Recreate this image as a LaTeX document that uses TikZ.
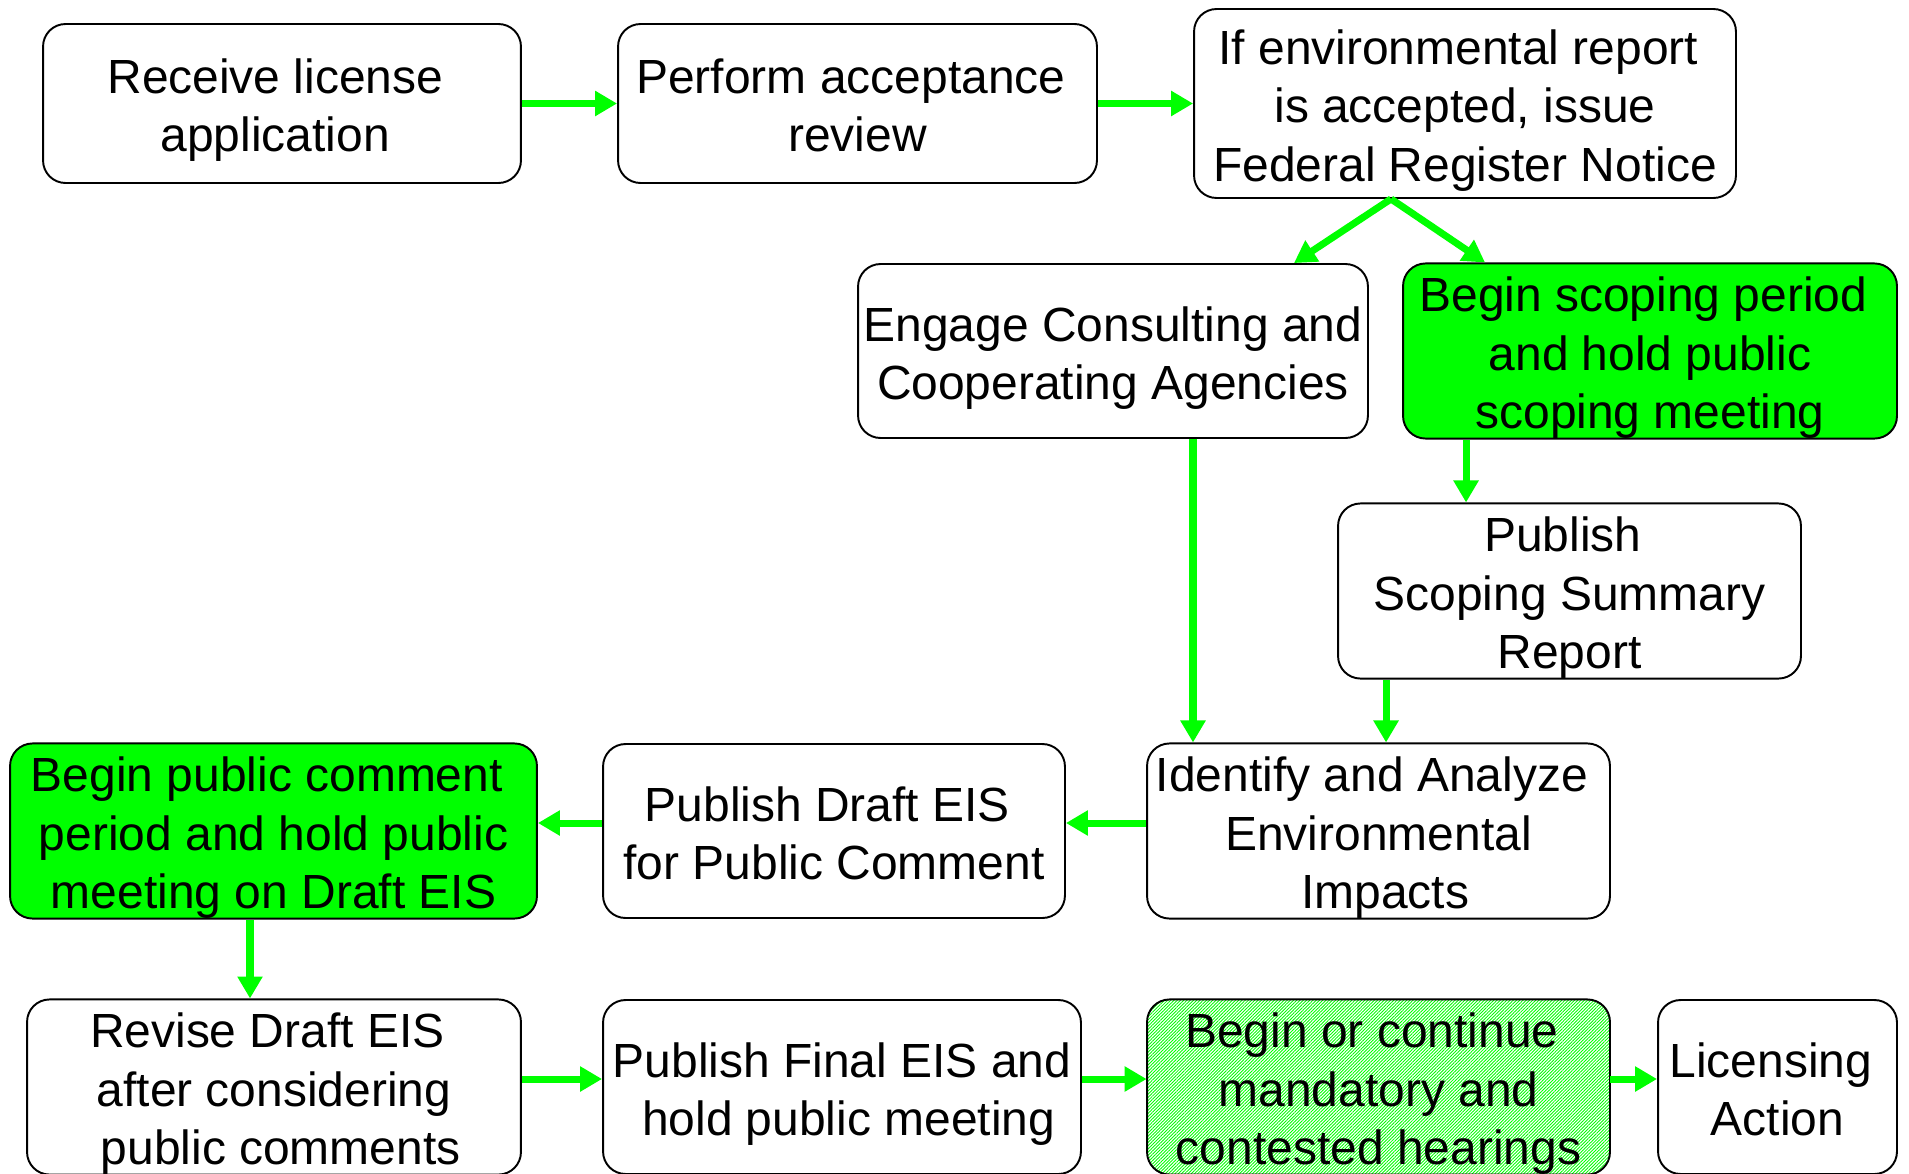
\documentclass[tikz,border=0pt]{standalone}
\usepackage{fontspec}
\setmainfont{Liberation Sans}
\usetikzlibrary{arrows.meta,patterns.meta}
\newcommand{\tgap}{\rule{0pt}{0.97cm}}
\newcommand{\tdep}{\rule[-0.2cm]{0pt}{0pt}}
\newcommand{\tsp}{\hspace*{0.267cm}}

\begin{document}
\begin{tikzpicture}[x=0.02cm,y=-0.02cm,
  box/.style={draw,line width=1.1pt,rounded corners=0.45cm,align=center,inner sep=0pt,
    minimum height=3.48cm,font=\fontsize{27.3}{33.2}\selectfont},
  flow/.style={draw=green,line width=4pt,-{Triangle[length=0.44cm,width=0.48cm]}}]
 \useasboundingbox (0,0) rectangle (1909,1173);
 \node[box,minimum width=9.56cm,minimum height=3.18cm] (1) at (282,103.5)  {\tgap Receive license\tsp\\application\tsp};
 \node[box,minimum width=9.58cm,minimum height=3.18cm] (2) at (857.5,103.5) {\tgap Perform acceptance\tsp\\review\tdep};
 \node[box,minimum width=10.84cm,minimum height=3.78cm] (3) at (1465,103.5) {\tgap If environmental report\tsp\\is accepted, issue\tsp\\Federal Register Notice};
 \node[box,minimum width=10.2cm]  (4)  at (1113,351)    {\tgap Engage Consulting and\\Cooperating Agencies};
 \node[box,minimum width=9.88cm,fill=green] (5) at (1650,351) {\tgap Begin scoping period\tsp\\and hold public\tsp\\scoping meeting};
 \node[box,minimum width=9.26cm]  (6)  at (1569.5,591)  {\tgap Publish\tsp\\Scoping Summary\tsp\\Report};
 \node[box,minimum width=10.54cm,fill=green] (7) at (273.5,831) {\tgap Begin public comment\tsp\\period and hold public\\meeting on Draft EIS};
 \node[box,minimum width=9.24cm]  (8)  at (834,831)     {\tgap Publish Draft EIS\tsp\\for Public Comment\tdep};
 \node[box,minimum width=9.26cm]  (9)  at (1378.5,831)  {\tgap Identify and Analyze\tsp\\Environmental\\\tsp Impacts};
 \node[box,minimum width=9.88cm]  (10) at (274,1087)    {\tgap Revise Draft EIS\tsp\\after considering\\\tsp public comments};
 \node[box,minimum width=9.56cm]  (11) at (842,1087)    {\tgap Publish Final EIS and\\\tsp hold public meeting};
 \node[box,minimum width=9.26cm,pattern={Lines[angle=45,distance=1.3pt,line width=0.5pt]},pattern color=green]
   (12) at (1378.5,1087) {\tgap Begin or continue\tsp\\mandatory and\tsp\\contested hearings};
 \node[box,minimum width=4.78cm]  (13) at (1777.5,1087) {\tgap Licensing\tsp\\Action\tdep};
 % connectors
 \draw[flow] (1) -- (2);
 \draw[flow] (2) -- (3);
 \draw[flow] ([xshift=-1.48cm]3.south) -- ([xshift=3.62cm]4.north);
 \draw[flow] ([xshift=-1.48cm]3.south) -- ([xshift=-3.3cm]5.north);
 \draw[flow] ([xshift=-3.68cm]5.south) -- ([xshift=-3.68cm]5.south |- 6.north);
 \draw[flow] ([xshift=1.6cm]4.south) -- ([xshift=1.6cm]4.south |- 9.north);
 \draw[flow] ([xshift=-3.67cm]6.south) -- ([xshift=-3.67cm]6.south |- 9.north);
 \draw[flow] ([yshift=0.16cm]9.west) -- ([yshift=0.16cm]9.west -| 8.east);
 \draw[flow] ([yshift=0.16cm]8.west) -- ([yshift=0.16cm]8.west -| 7.east);
 \draw[flow] ([xshift=-0.47cm]7.south) -- ([xshift=-0.47cm]7.south |- 10.north);
 \draw[flow] ([yshift=0.16cm]10.east) -- ([yshift=0.16cm]10.east -| 11.west);
 \draw[flow] ([yshift=0.16cm]11.east) -- ([yshift=0.16cm]11.east -| 12.west);
 \draw[flow] ([yshift=0.16cm]12.east) -- ([yshift=0.16cm]12.east -| 13.west);
\end{tikzpicture}
\end{document}
